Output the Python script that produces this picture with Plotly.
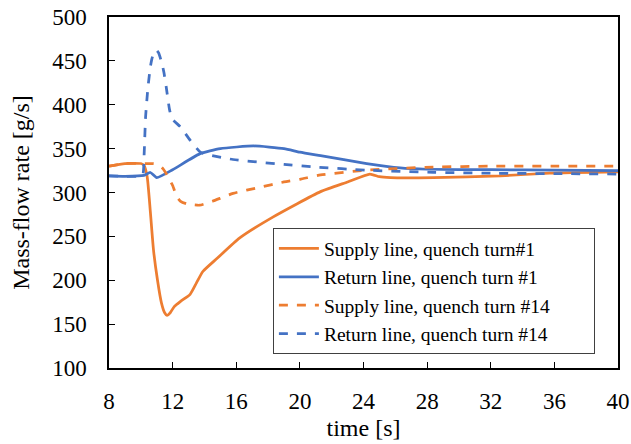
import plotly.graph_objects as go

# Supply line, quench turn #1
t_sup1 = [8, 9, 10, 10.2, 10.4, 10.6, 10.8, 11.05, 11.3, 11.5, 11.65, 11.85, 12.1, 12.5, 13.1, 13.5, 13.9, 14.8, 16.2, 18.3, 21.3, 23, 24.4, 25.0, 25.7, 28.4, 32.6, 35.7, 40]
v_sup1 = [330, 333, 333, 331, 318, 278, 234, 200, 174, 163, 160, 163, 170, 176, 184, 197, 210, 225, 248, 272, 301, 312, 321, 318, 317, 317, 319, 322, 323.5]

# Return line, quench turn #1
t_ret1 = [8, 9, 10.2, 10.6, 11.0, 12, 13.7, 15, 17.1, 19, 20, 21.3, 24.2, 26.3, 28, 32, 36, 40]
v_ret1 = [319, 318.5, 319.5, 322.8, 317, 326, 344, 350, 353, 350, 346, 342, 333, 328, 326.5, 326, 325.5, 325]

# Supply line, quench turn #14
t_sup14 = [8, 9, 10, 10.4, 10.8, 11.1, 11.4, 11.65, 12.0, 12.27, 12.5, 12.9, 13.7, 14.5, 15.8, 17.5, 19, 20, 21.3, 24.2, 28.4, 32, 36, 40]
v_sup14 = [330, 333, 333, 333, 333, 332, 327, 320, 308, 295, 290, 287, 285.5, 290, 299, 306, 312, 315, 320, 325.5, 329, 330, 330, 330]

# Return line, quench turn #14
t_ret14 = [8, 9, 10.1, 10.2, 10.3, 10.45, 10.6, 10.7, 10.86, 11.0, 11.12, 11.33, 11.45, 11.6, 11.8, 11.96, 12.48, 13.1, 13.74, 14.37, 15.8, 19, 21, 24.2, 28.4, 32, 36, 40]
v_ret14 = [319, 318.5, 319.5, 340, 386, 420, 443, 452.6, 461, 462, 459, 447, 437, 420, 395, 384, 375, 359.6, 346, 342.5, 337.6, 332, 329, 325.4, 323, 322, 321.5, 321]

series_names = [
    "Supply line, quench turn#1",
    "Return line, quench turn #1",
    "Supply line, quench turn #14",
    "Return line, quench turn #14",
]

x_ticks = [8, 12, 16, 20, 24, 28, 32, 36, 40]
y_ticks = [100, 150, 200, 250, 300, 350, 400, 450, 500]

ORANGE = "#ED7D31"
BLUE = "#4472C4"
FONT = "Liberation Serif"
PAD = "\u00a0" * 8  # pads the legend box to the reference width

fig = go.Figure()
fig.add_trace(go.Scatter(x=t_sup1, y=v_sup1, mode="lines", name=series_names[0],
                         line=dict(color=ORANGE, width=2.75, shape="spline", smoothing=0.5)))
fig.add_trace(go.Scatter(x=t_ret1, y=v_ret1, mode="lines", name=series_names[1],
                         line=dict(color=BLUE, width=2.75, shape="spline", smoothing=0.5)))
fig.add_trace(go.Scatter(x=t_sup14, y=v_sup14, mode="lines", name=series_names[2] + PAD,
                         line=dict(color=ORANGE, width=2.75, dash="dash", shape="spline", smoothing=0.5)))
fig.add_trace(go.Scatter(x=t_ret14, y=v_ret14, mode="lines", name=series_names[3],
                         line=dict(color=BLUE, width=2.75, dash="dash", shape="spline", smoothing=0.5)))

fig.update_layout(
    width=631, height=444,
    margin=dict(l=108.6, r=12.5, t=16.7, b=76, autoexpand=False),
    paper_bgcolor="white", plot_bgcolor="white",
    font=dict(family=FONT, size=23, color="black"),
    legend=dict(x=0.322, y=0.398, xanchor="left", yanchor="top",
                bgcolor="white", bordercolor="#404040", borderwidth=1,
                font=dict(family=FONT, size=19.5, color="black"),
                itemwidth=40, tracegroupgap=0),
    xaxis=dict(range=[8, 40], tickvals=x_ticks, ticktext=[str(v) for v in x_ticks],
               showgrid=False, zeroline=False, showline=True, linecolor="black", linewidth=1.5,
               mirror=True, ticks="inside", ticklen=6, tickcolor="black",
               automargin=False, ticklabelstandoff=12,
               title=dict(text="time [s]", font=dict(family=FONT, size=24), standoff=6)),
    yaxis=dict(range=[100, 500], tickvals=y_ticks, ticktext=[str(v) for v in y_ticks],
               showgrid=False, zeroline=False, showline=True, linecolor="black", linewidth=1.5,
               mirror=True, ticks="inside", ticklen=6, tickcolor="black",
               automargin=False, ticklabelstandoff=16,
               title=dict(text="Mass-flow rate [g/s]", font=dict(family=FONT, size=24), standoff=16)),
)

fig.write_html(
    "out.html",
    config={"displayModeBar": False},
    post_script="document.body.style.margin='0';document.body.style.overflow='hidden';",
)
